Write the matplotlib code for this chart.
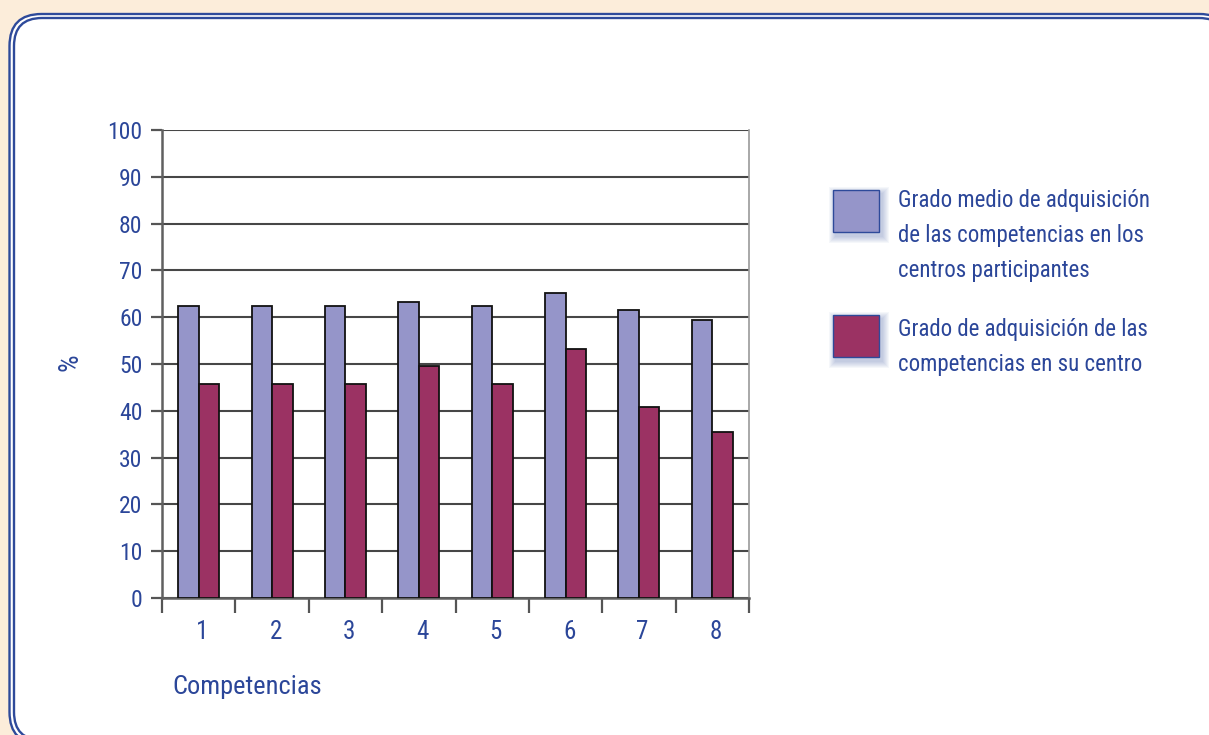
import numpy as np
import matplotlib
matplotlib.use("Agg")
import matplotlib.pyplot as plt
from matplotlib import font_manager
from matplotlib.patches import FancyBboxPatch, Rectangle

# Prefer a narrow sans face for the labels
installed = {f.name for f in font_manager.fontManager.ttflist}
preferred = ['Liberation Sans Narrow', 'DejaVu Sans Condensed', 'Roboto Condensed',
             'Open Sans Condensed', 'Noto Sans Condensed', 'Lato', 'Roboto']
family = [n for n in preferred if n in installed][:1] + ['DejaVu Sans']
plt.rcParams['font.family'] = family

# Data
competencias = [1, 2, 3, 4, 5, 6, 7, 8]
grado_medio = [62.4, 62.4, 62.4, 63.2, 62.4, 65.1, 61.5, 59.4]
grado_centro = [45.7, 45.7, 45.7, 49.6, 45.7, 53.1, 40.9, 35.4]
y_ticks = [0, 10, 20, 30, 40, 50, 60, 70, 80, 90, 100]
serie_labels = ["Grado medio de adquisición\nde las competencias en los\ncentros participantes",
                "Grado de adquisición de las\ncompetencias en su centro"]

TEXT = '#2B4699'
FRAME = '#2E4A9A'
PEACH = '#FCEDDA'
C_BLUE = '#9595C9'
C_RED = '#9B3263'

W, H = 1209, 735
fig = plt.figure(figsize=(W / 100, H / 100), dpi=100, facecolor=PEACH)

# Background panel with double rounded border (pixel coordinates)
bg = fig.add_axes([0, 0, 1, 1], zorder=-1)
bg.set_xlim(0, W)
bg.set_ylim(H, 0)
bg.set_autoscale_on(False)
bg.axis('off')
outer = FancyBboxPatch((9.5, 14), 1222, 730, boxstyle="round,pad=0,rounding_size=32",
                       facecolor='white', edgecolor=FRAME, linewidth=1.7)
inner = FancyBboxPatch((14, 18), 1213, 722, boxstyle="round,pad=0,rounding_size=28",
                       facecolor='white', edgecolor=FRAME, linewidth=1.7)
bg.add_patch(outer)
bg.add_patch(inner)

# Main bar chart
ax = fig.add_axes([162 / W, 1 - 598 / H, (749 - 162) / W, (598 - 130) / H], zorder=1)
ax.set_facecolor('none')
x = np.array(competencias, dtype=float)
w = 0.28
ax.bar(x - w / 2, grado_medio, width=w, color=C_BLUE, edgecolor='#111111', linewidth=1.3, zorder=3)
ax.bar(x + w / 2, grado_centro, width=w, color=C_RED, edgecolor='#111111', linewidth=1.3, zorder=3)

ax.set_xlim(0.5, 8.5)
ax.set_ylim(0, 100)
ax.set_yticks(y_ticks)
ax.set_yticklabels([str(t) for t in y_ticks], color=TEXT, fontsize=17)
ax.yaxis.grid(True, color='#474747', linewidth=1.5, zorder=0)
ax.set_axisbelow(True)

ax.set_xticks(x + 0.05)
ax.set_xticklabels([str(c) for c in competencias], color=TEXT, fontsize=18)
ax.set_xticks(np.arange(0.5, 9.0, 1.0), minor=True)
ax.tick_params(axis='x', which='major', length=0, pad=16)
ax.tick_params(axis='x', which='minor', length=11, width=1.6, color='#555555', direction='out')
ax.tick_params(axis='y', length=8, width=1.6, color='#555555', direction='out', pad=6)

for side in ['left', 'bottom']:
    ax.spines[side].set_color('#606060')
    ax.spines[side].set_linewidth(1.8)
ax.spines['right'].set_color('#9a9a9a')
ax.spines['right'].set_linewidth(1.2)
ax.spines['top'].set_visible(False)

# Axis titles and legend (pixel overlay)
ov = fig.add_axes([0, 0, 1, 1], zorder=5)
ov.set_xlim(0, W)
ov.set_ylim(H, 0)
ov.set_autoscale_on(False)
ov.axis('off')
ov.patch.set_alpha(0)

ov.text(172, 687, "Competencias", color=TEXT, fontsize=19, ha='left', va='center')
ov.text(70, 362, "%", color=TEXT, fontsize=20, ha='center', va='center', rotation=90)

legend_items = [(190, C_BLUE, serie_labels[0], 203), (315, C_RED, serie_labels[1], 332)]
for top, col, label, first_line in legend_items:
    # soft shadow around the swatch
    for k in range(7, 0, -1):
        ov.add_patch(Rectangle((833 - k + 3, top - k + 4), 46 + 2 * k, 42 + 2 * k,
                               facecolor=FRAME, edgecolor='none', alpha=0.045))
    ov.add_patch(Rectangle((833, top), 46, 42, facecolor=col, edgecolor=FRAME, linewidth=1.0))
    ov.text(898, first_line - 14, label, color=TEXT, fontsize=16.5, ha='left', va='top',
            linespacing=1.68)

fig.savefig('out.png', dpi=100, facecolor=PEACH)
